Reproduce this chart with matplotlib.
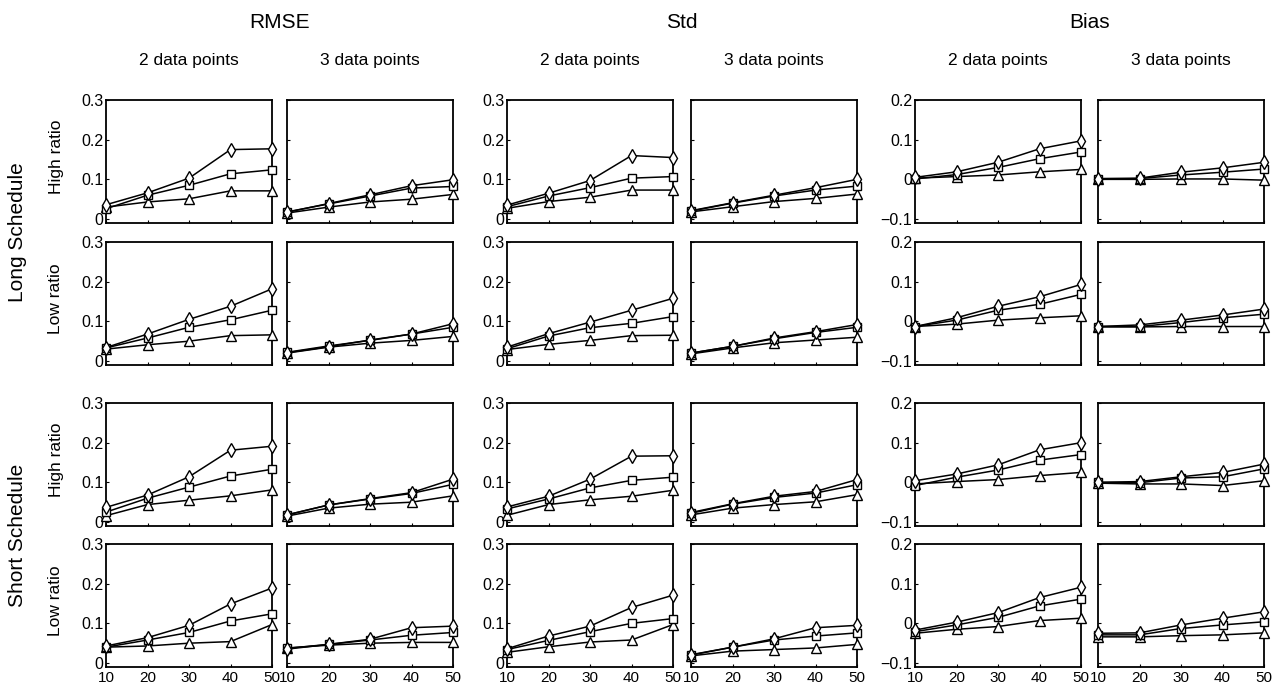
import numpy as np
import matplotlib
matplotlib.use("Agg")
import matplotlib.pyplot as plt

plt.rcParams['font.family'] = ['Liberation Sans', 'DejaVu Sans']

# sample sizes on the x axis
sizes = [10, 20, 30, 40, 50]

# each panel: (diamond, square, triangle) series
# rows: Long/High, Long/Low, Short/High, Short/Low
rmse_2 = [
    ([0.036, 0.066, 0.103, 0.175, 0.177], [0.026, 0.060, 0.085, 0.114, 0.124], [0.030, 0.043, 0.051, 0.071, 0.071]),
    ([0.034, 0.068, 0.105, 0.138, 0.182], [0.033, 0.058, 0.085, 0.104, 0.128], [0.030, 0.041, 0.050, 0.064, 0.066]),
    ([0.037, 0.068, 0.114, 0.181, 0.191], [0.025, 0.060, 0.088, 0.116, 0.133], [0.016, 0.044, 0.055, 0.066, 0.081]),
    ([0.043, 0.064, 0.095, 0.149, 0.189], [0.040, 0.058, 0.077, 0.106, 0.124], [0.040, 0.043, 0.050, 0.054, 0.097]),
]
rmse_3 = [
    ([0.017, 0.039, 0.061, 0.084, 0.099], [0.018, 0.038, 0.058, 0.078, 0.082], [0.015, 0.030, 0.043, 0.050, 0.062]),
    ([0.021, 0.036, 0.053, 0.068, 0.094], [0.022, 0.038, 0.052, 0.068, 0.085], [0.020, 0.035, 0.045, 0.052, 0.062]),
    ([0.018, 0.043, 0.059, 0.074, 0.108], [0.018, 0.043, 0.058, 0.072, 0.095], [0.015, 0.035, 0.045, 0.050, 0.066]),
    ([0.035, 0.047, 0.060, 0.089, 0.093], [0.037, 0.047, 0.058, 0.070, 0.077], [0.038, 0.045, 0.050, 0.052, 0.052]),
]
std_2 = [
    ([0.035, 0.065, 0.097, 0.160, 0.155], [0.031, 0.058, 0.079, 0.103, 0.107], [0.027, 0.044, 0.055, 0.073, 0.073]),
    ([0.035, 0.069, 0.098, 0.128, 0.158], [0.031, 0.063, 0.084, 0.095, 0.112], [0.029, 0.042, 0.052, 0.064, 0.065]),
    ([0.038, 0.065, 0.108, 0.166, 0.167], [0.033, 0.058, 0.086, 0.105, 0.113], [0.017, 0.044, 0.056, 0.065, 0.080]),
    ([0.036, 0.068, 0.093, 0.140, 0.171], [0.034, 0.057, 0.079, 0.100, 0.112], [0.027, 0.041, 0.053, 0.058, 0.097]),
]
std_3 = [
    ([0.021, 0.041, 0.060, 0.079, 0.100], [0.020, 0.040, 0.058, 0.073, 0.083], [0.018, 0.031, 0.044, 0.052, 0.063]),
    ([0.020, 0.037, 0.058, 0.074, 0.092], [0.020, 0.037, 0.056, 0.072, 0.085], [0.018, 0.033, 0.046, 0.053, 0.060]),
    ([0.024, 0.046, 0.065, 0.077, 0.107], [0.022, 0.045, 0.062, 0.073, 0.094], [0.018, 0.035, 0.044, 0.051, 0.069]),
    ([0.021, 0.040, 0.061, 0.089, 0.095], [0.020, 0.040, 0.058, 0.068, 0.076], [0.018, 0.030, 0.034, 0.038, 0.047]),
]
bias_2 = [
    ([0.005, 0.019, 0.043, 0.077, 0.097], [0.001, 0.012, 0.030, 0.052, 0.069], [0.003, 0.007, 0.011, 0.019, 0.025]),
    ([-0.013, 0.009, 0.038, 0.062, 0.093], [-0.013, 0.003, 0.028, 0.043, 0.068], [-0.013, -0.007, 0.003, 0.009, 0.014]),
    ([0.004, 0.021, 0.044, 0.082, 0.100], [-0.008, 0.013, 0.031, 0.056, 0.070], [-0.004, 0.002, 0.007, 0.017, 0.025]),
    ([-0.017, 0.003, 0.027, 0.065, 0.091], [-0.021, -0.004, 0.015, 0.044, 0.061], [-0.025, -0.015, -0.008, 0.007, 0.013]),
]
bias_3 = [
    ([0.002, 0.003, 0.018, 0.029, 0.043], [0.000, 0.002, 0.011, 0.018, 0.026], [0.000, 0.000, 0.001, 0.001, -0.002]),
    ([-0.013, -0.009, 0.003, 0.016, 0.031], [-0.013, -0.013, -0.003, 0.009, 0.018], [-0.014, -0.014, -0.013, -0.013, -0.013]),
    ([0.000, 0.002, 0.014, 0.025, 0.046], [0.000, -0.001, 0.011, 0.014, 0.034], [-0.002, -0.004, -0.004, -0.008, 0.004]),
    ([-0.025, -0.024, -0.004, 0.013, 0.029], [-0.029, -0.029, -0.013, -0.004, 0.004], [-0.034, -0.034, -0.031, -0.029, -0.024]),
]

group_titles = ['RMSE', 'Std', 'Bias']
col_titles = ['2 data points', '3 data points']
ratio_labels = ['High ratio', 'Low ratio', 'High ratio', 'Low ratio']
schedule_labels = ['Long Schedule', 'Short Schedule']

panels = [rmse_2, rmse_3, std_2, std_3, bias_2, bias_3]
markers = ['d', 's', '^']
msizes = [7.5, 6, 6.5]

W, H = 1273, 691
fig = plt.figure(figsize=(W / 100, H / 100), dpi=100)

col_left = [106, 287, 507, 691, 915, 1098]
row_top = [100, 242, 403, 544]
aw, ah = 166, 123


def to_fig(x, y):
    return x / W, 1 - y / H


for c, panel in enumerate(panels):
    is_bias = c >= 4
    for r in range(4):
        l, b = to_fig(col_left[c], row_top[r] + ah)
        ax = fig.add_axes([l, b, aw / W, ah / H])
        for s, (m, ms) in enumerate(zip(markers, msizes)):
            ax.plot(sizes, panel[r][s], color='black', lw=1.1, marker=m, ms=ms,
                    mfc='white', mec='black', mew=1.0, clip_on=False, zorder=3 - s * 0.1)
        ax.set_xlim(10, 50)
        ax.set_xticks(sizes)
        if is_bias:
            ax.set_ylim(-0.11, 0.2)
            yt = [-0.1, 0, 0.1, 0.2]
            ylab = ['\u22120.1', '0', '0.1', '0.2']
        else:
            ax.set_ylim(-0.01, 0.3)
            yt = [0, 0.1, 0.2, 0.3]
            ylab = ['0', '0.1', '0.2', '0.3']
        ax.set_yticks(yt)
        if c % 2 == 0:
            ax.set_yticklabels(ylab)
        else:
            ax.set_yticklabels([])
        if r < 3:
            ax.set_xticklabels([])
        ax.tick_params(axis='y', direction='in', length=2.5, width=0.8, labelsize=11.5, pad=2)
        ax.tick_params(axis='x', direction='in', length=2.5, width=0.8, labelsize=11, pad=3)
        for sp in ax.spines.values():
            sp.set_linewidth(1.3)

# titles
for g, t in enumerate(group_titles):
    xc = (col_left[2 * g] + col_left[2 * g + 1] + aw) / 2
    fig.text(*to_fig(xc, 22), t, ha='center', va='center', fontsize=15)
    for k, ct in enumerate(col_titles):
        xs = col_left[2 * g + k] + aw / 2
        fig.text(*to_fig(xs, 61), ct, ha='center', va='center', fontsize=12.5)

for r, rl in enumerate(ratio_labels):
    fig.text(*to_fig(56, row_top[r] + ah / 2 - 5), rl, ha='center', va='center',
             rotation=90, fontsize=12.5)

for k, sl in enumerate(schedule_labels):
    yc = (row_top[2 * k] + row_top[2 * k + 1] + ah) / 2
    fig.text(*to_fig(18, yc), sl, ha='center', va='center', rotation=90, fontsize=15)

fig.savefig('out.png', dpi=100)
